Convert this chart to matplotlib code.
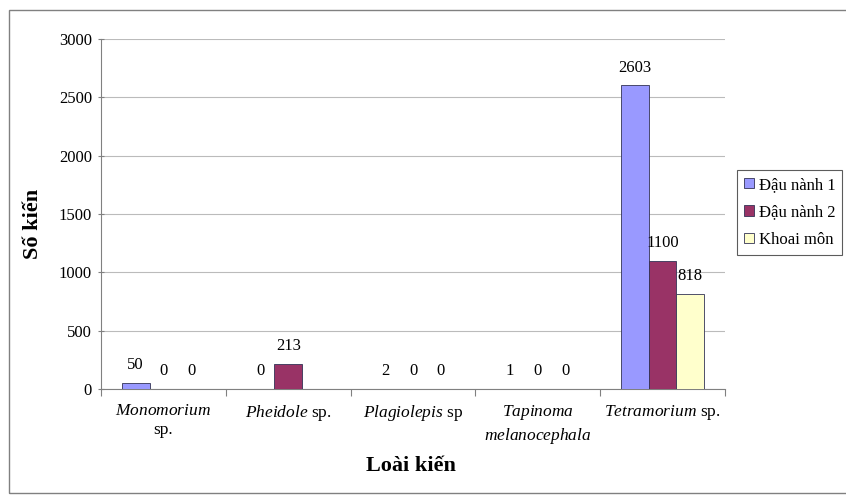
import matplotlib
matplotlib.use("Agg")
import matplotlib.pyplot as plt
import numpy as np
from matplotlib.patches import Rectangle

plt.rcParams['font.family'] = ['Liberation Serif', 'DejaVu Serif']
plt.rcParams['mathtext.fontset'] = 'custom'
plt.rcParams['mathtext.rm'] = 'Liberation Serif'
plt.rcParams['mathtext.it'] = 'Liberation Serif:italic'

categories = [r"$\mathit{Monomorium}$" + "\nsp.",
              r"$\mathit{Pheidole}$ sp.",
              r"$\mathit{Plagiolepis}$ sp",
              r"$\mathit{Tapinoma}$" + "\n" + r"$\mathit{melanocephala}$",
              r"$\mathit{Tetramorium}$ sp."]
series_names = ["Đậu nành 1", "Đậu nành 2", "Khoai môn"]
dau_nanh_1 = [50, 0, 2, 1, 2603]
dau_nanh_2 = [0, 213, 0, 0, 1100]
khoai_mon = [0, None, 0, 0, 818]
colors = ["#9999FF", "#993366", "#FFFFCC"]
yticks = [0, 500, 1000, 1500, 2000, 2500, 3000]

fig = plt.figure(figsize=(8.46, 4.95), dpi=100)
# outer frame
fig.patches.append(Rectangle((9/846, 1-493/495), 845/846, 483/495, transform=fig.transFigure,
                             fill=False, edgecolor="#808080", linewidth=1.0))
ax = fig.add_axes([101/846, 1-389/495, 624/846, 350/495])

x = np.arange(len(categories))
w = 0.222
series = [dau_nanh_1, dau_nanh_2, khoai_mon]
for i, (vals, c, name) in enumerate(zip(series, colors, series_names)):
    pos = x + (i-1)*w
    hv = [np.nan if v is None else v for v in vals]
    ax.bar(pos, hv, w, color=c, edgecolor="#333355", linewidth=0.6, label=name, zorder=3)
    for p, v in zip(pos, vals):
        if v is None:
            continue
        ax.annotate(str(v), (p, v), xytext=(0, 7), textcoords="offset points",
                    ha="center", va="bottom", fontsize=12)

ax.set_xlim(-0.5, len(categories)-0.5)
ax.set_ylim(0, 3000)
ax.set_yticks(yticks)
ax.tick_params(axis='y', labelsize=12, length=5, color="#808080", direction='inout', pad=4)
ax.set_xticks(np.arange(len(categories)+1)-0.5)
ax.set_xticklabels([])
ax.set_xticks(x, minor=True)
ax.set_xticklabels(categories, minor=True, fontsize=12.5, linespacing=1.3)
ax.tick_params(axis='x', which='major', length=5, color="#808080", direction='out')
ax.tick_params(axis='x', which='minor', length=0, pad=10)
ax.grid(axis='y', color="#BBBBBB", linewidth=0.8, zorder=0)
for s in ['top', 'right']:
    ax.spines[s].set_visible(False)
ax.spines['left'].set_color("#808080")
ax.spines['bottom'].set_color("#808080")

fig.text(33/846, 1-224/495, "Số kiến", rotation=90, ha="center", va="center",
         fontsize=16, fontweight="bold")
fig.text(411/846, 1-466/495, "Loài kiến", ha="center", va="center",
         fontsize=16, fontweight="bold")

leg = fig.legend(loc="upper left", bbox_to_anchor=(737/846, 1-170/495), fontsize=12,
                 frameon=True, fancybox=False, edgecolor="#333333", handlelength=0.6,
                 handleheight=0.6, handletextpad=0.3, borderpad=0.4, labelspacing=0.7,
                 borderaxespad=0)
leg.get_frame().set_linewidth(0.8)

fig.savefig("out.png", dpi=100)
